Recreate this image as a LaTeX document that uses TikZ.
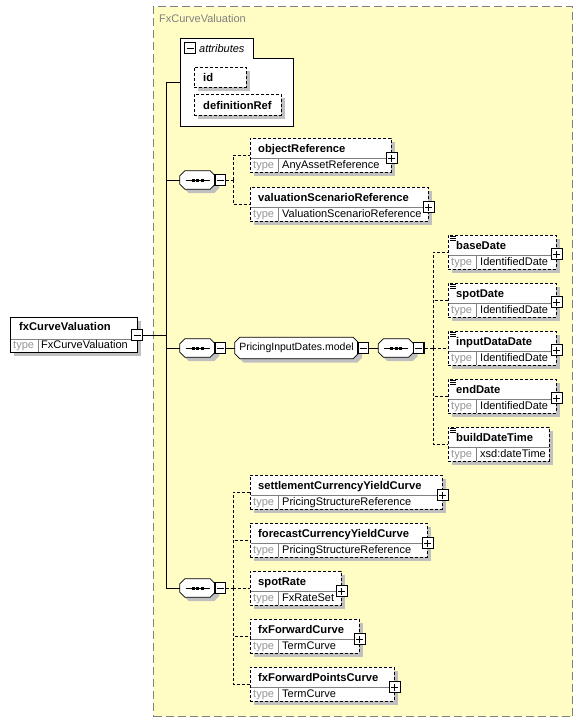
\documentclass[tikz,border=0pt]{standalone}
\usepackage{fontspec}
\setmainfont{Liberation Sans}
\usetikzlibrary{shadows}
\definecolor{bgyel}{RGB}{255,253,196}
\definecolor{dgray}{RGB}{128,128,128}
\definecolor{tgray}{RGB}{150,150,150}
\definecolor{shgray}{RGB}{192,192,192}
% element box: name, x, y, width, title, type
\newcommand\xel[6]{%
 \node[elembox, minimum width=#4pt, anchor=north west] (#1) at (#2,#3) {};
 \draw[divline] ([xshift=0.5pt,yshift=-20pt]#1.north west) -- ([xshift=-0.5pt,yshift=-20pt]#1.north east);
 \draw[divline] ([xshift=28pt,yshift=-20pt]#1.north west) -- ([xshift=28pt,yshift=0.5pt]#1.south west);
 \node[nametxt, anchor=base west] (#1-n) at ([xshift=8pt,yshift=-14.5pt]#1.north west) {#5};
 \node[typelbl, anchor=base west] (#1-t) at ([xshift=3pt,yshift=-30pt]#1.north west) {type};
 \node[typetxt, anchor=base west] (#1-y) at ([xshift=32pt,yshift=-30pt]#1.north west) {#6};
}
\newcommand\xplus[2]{%
 \node[pmbox] (#1) at #2 {};
 \draw[pmline] ([xshift=-3.5pt]#1.center) -- ([xshift=3.5pt]#1.center)
               ([yshift=-3.5pt]#1.center) -- ([yshift=3.5pt]#1.center);
}
\newcommand\xminus[2]{%
 \node[pmbox] (#1) at #2 {};
 \draw[pmline] ([xshift=-3.5pt]#1.center) -- ([xshift=3.5pt]#1.center);
}
\newcommand\xicon[1]{%
 \foreach \d in {1,3.2,5.4}
   \draw[line width=0.8pt] ([xshift=2pt,yshift=-\d]#1.north west) -- ++(6,0);
}
% sequence compositor: name, cx, cy, minus name
\newcommand\xseq[4]{%
 \node[inner sep=0pt, minimum width=35pt, minimum height=18pt] (#1) at (#2,#3) {};
 \path[seqshape] ([xshift=5pt]#1.north west) -- ([xshift=-5pt]#1.north east)
   -- ([yshift=-5pt]#1.north east) -- ([yshift=5pt]#1.south east)
   -- ([xshift=-5pt]#1.south east) -- ([xshift=5pt]#1.south west)
   -- ([yshift=5pt]#1.south west) -- ([yshift=-5pt]#1.north west) -- cycle;
 \draw[line width=0.7pt] ([xshift=-12pt]#1.center) -- ([xshift=12pt]#1.center);
 \foreach \d in {-4.5,0,4.5}
   \fill ([xshift=\d]#1.center) +(-1.5,-1.5) rectangle +(1.5,1.5);
 \xminus{#4}{([xshift=5pt]#1.east)}
}
\begin{document}
\begin{tikzpicture}[x=1pt,y=-1pt,
  font=\fontsize{11}{13}\selectfont,
  frame/.style={draw=dgray, dash pattern=on 8pt off 4pt, line width=1pt, fill=bgyel, inner sep=0pt},
  elembox/.style={draw, dash pattern=on 3pt off 2pt, line width=0.8pt, fill=white,
     rectangle, minimum height=34pt, inner sep=0pt,
     general shadow={fill=shgray, shadow xshift=4pt, shadow yshift=-4pt}},
  mainbox/.style={draw, line width=0.8pt, fill=white, rectangle, inner sep=0pt,
     general shadow={fill=shgray, shadow xshift=4pt, shadow yshift=-4pt}},
  attrel/.style={draw, dash pattern=on 3pt off 2pt, line width=0.8pt, fill=white,
     rectangle, inner sep=0pt,
     general shadow={fill=shgray, shadow xshift=4pt, shadow yshift=-4pt}},
  seqshape/.style={draw, line width=0.8pt, fill=white,
     general shadow={fill=shgray, shadow xshift=4pt, shadow yshift=-4pt}},
  nametxt/.style={font=\fontsize{11.2}{13}\selectfont\bfseries, inner sep=0pt},
  typelbl/.style={text=tgray, inner sep=0pt},
  typetxt/.style={inner sep=0pt},
  divline/.style={line width=0.7pt, draw=dgray},
  pmbox/.style={draw, fill=white, line width=1.1pt, minimum size=10.5pt, inner sep=0pt},
  pmline/.style={line width=1pt},
  conn/.style={line width=0.8pt},
  dconn/.style={line width=0.8pt, dash pattern=on 3pt off 2pt}
]
\useasboundingbox (0,0) rectangle (583,723);

% outer complex type frame
\node[frame, minimum width=419pt, minimum height=710pt, anchor=north west] (frame) at (153,6) {};
\node[text=dgray, anchor=base west, inner sep=0pt] (frametitle) at (159,22) {FxCurveValuation};

% attributes box
\node[inner sep=0pt, minimum width=113pt, minimum height=88pt] (attrbox) at (236.5,82) {};
\path[draw, line width=0.8pt, fill=white] (180,38) -- (253,38) -- (253,58) -- (293,58) -- (293,126) -- (180,126) -- cycle;
\xminus{attrm}{(190,48)}
\node[anchor=base west, inner sep=0pt, font=\fontsize{11}{13}\selectfont\itshape] (attrtitle) at (199,52) {attributes};
\node[attrel, minimum width=52pt, minimum height=20pt, anchor=north west] (id) at (194,67) {};
\node[nametxt, anchor=base west] (id-n) at (203,81) {id};
\node[attrel, minimum width=87pt, minimum height=21pt, anchor=north west] (defref) at (194,94) {};
\node[nametxt, anchor=base west] (defref-n) at (203,109) {definitionRef};

% root element
\node[mainbox, minimum width=127pt, minimum height=35pt, anchor=north west] (fxcv) at (10,317) {};
\draw[divline] (10.5,339) -- (136.5,339);
\draw[divline] (38,339) -- (38,351.5);
\node[nametxt, anchor=base west] (fxcv-n) at (19,330) {fxCurveValuation};
\node[typelbl, anchor=base west] (fxcv-t) at (13,348) {type};
\node[typetxt, anchor=base west] (fxcv-y) at (41,348) {FxCurveValuation};
\xminus{fxcvm}{(137,335)}

% compositors
\xseq{seqA}{197.5}{180}{seqAm}
\xseq{seqM}{197.5}{348}{seqMm}
\xseq{seqC}{197.5}{588}{seqCm}

% PricingInputDates.model group
\node[inner sep=0pt, minimum width=123pt, minimum height=21pt] (pid) at (296.5,348) {};
\path[seqshape] ([xshift=5pt]pid.north west) -- ([xshift=-5pt]pid.north east)
   -- ([yshift=-5pt]pid.north east) -- ([yshift=5pt]pid.south east)
   -- ([xshift=-5pt]pid.south east) -- ([xshift=5pt]pid.south west)
   -- ([yshift=5pt]pid.south west) -- ([yshift=-5pt]pid.north west) -- cycle;
\node[inner sep=0pt, font=\fontsize{10.5}{12}\selectfont] (pid-t) at (296.5,348) {PricingInputDates.model};
\xminus{pidm}{([xshift=5pt]pid.east)}
\xseq{seqB}{396}{348}{seqBm}

% elements, top group
\xel{objref}{250}{138}{141}{objectReference}{AnyAssetReference}
\xplus{objrefp}{([yshift=-20pt]objref.north east)}
\xel{valscen}{250}{187}{178}{valuationScenarioReference}{ValuationScenarioReference}
\xplus{valscenp}{([yshift=-20pt]valscen.north east)}

% right column
\xel{basedate}{448}{235}{108}{baseDate}{IdentifiedDate}
\xicon{basedate}
\xplus{basedatep}{([yshift=-19pt]basedate.north east)}
\xel{spotdate}{448}{283}{108}{spotDate}{IdentifiedDate}
\xicon{spotdate}
\xplus{spotdatep}{([yshift=-19pt]spotdate.north east)}
\xel{inputdate}{448}{331}{108}{inputDataDate}{IdentifiedDate}
\xicon{inputdate}
\xplus{inputdatep}{([yshift=-19pt]inputdate.north east)}
\xel{enddate}{448}{379}{108}{endDate}{IdentifiedDate}
\xicon{enddate}
\xplus{enddatep}{([yshift=-19pt]enddate.north east)}
\xel{builddt}{448}{427}{101}{buildDateTime}{xsd:dateTime}
\xicon{builddt}

% bottom group
\xel{settle}{250}{475}{192}{settlementCurrencyYieldCurve}{PricingStructureReference}
\xplus{settlep}{([yshift=-20pt]settle.north east)}
\xel{forecast}{250}{523}{177}{forecastCurrencyYieldCurve}{PricingStructureReference}
\xplus{forecastp}{([yshift=-20pt]forecast.north east)}
\xel{spotrate}{250}{571}{91}{spotRate}{FxRateSet}
\xplus{spotratep}{([yshift=-20pt]spotrate.north east)}
\xel{fxfc}{250}{619}{109}{fxForwardCurve}{TermCurve}
\xplus{fxfcp}{([yshift=-20pt]fxfc.north east)}
\xel{fxfpc}{250}{667}{144}{fxForwardPointsCurve}{TermCurve}
\xplus{fxfpcp}{([yshift=-20pt]fxfpc.north east)}

% solid connectors
\coordinate (bus) at (166,335);
\draw[conn] (fxcvm.east) -- (bus);
\draw[conn] (bus) |- (attrbox.west);
\draw[conn] (bus) |- (seqA.west);
\draw[conn] (bus) |- (seqM.west);
\draw[conn] (bus) |- (seqC.west);
\draw[conn] (seqMm.east) -- (pid.west);
\draw[conn] (pidm.east) -- (seqB.west);

% dashed connectors
\coordinate (busA) at (233,180);
\draw[dconn] (seqAm.east) -- (busA);
\draw[dconn] (busA) |- (objref.west);
\draw[dconn] (busA) |- (valscen.west);

\coordinate (busB) at (433,348);
\draw[dconn] (seqBm.east) -- (busB);
\draw[dconn] (busB) |- (basedate.west);
\draw[dconn] (busB) |- (spotdate.west);
\draw[dconn] (busB) |- (inputdate.west);
\draw[dconn] (busB) |- (enddate.west);
\draw[dconn] (busB) |- (builddt.west);

\coordinate (busC) at (233,588);
\draw[dconn] (seqCm.east) -- (busC);
\draw[dconn] (busC) |- (settle.west);
\draw[dconn] (busC) |- (forecast.west);
\draw[dconn] (busC) |- (spotrate.west);
\draw[dconn] (busC) |- (fxfc.west);
\draw[dconn] (busC) |- (fxfpc.west);
\end{tikzpicture}
\end{document}
